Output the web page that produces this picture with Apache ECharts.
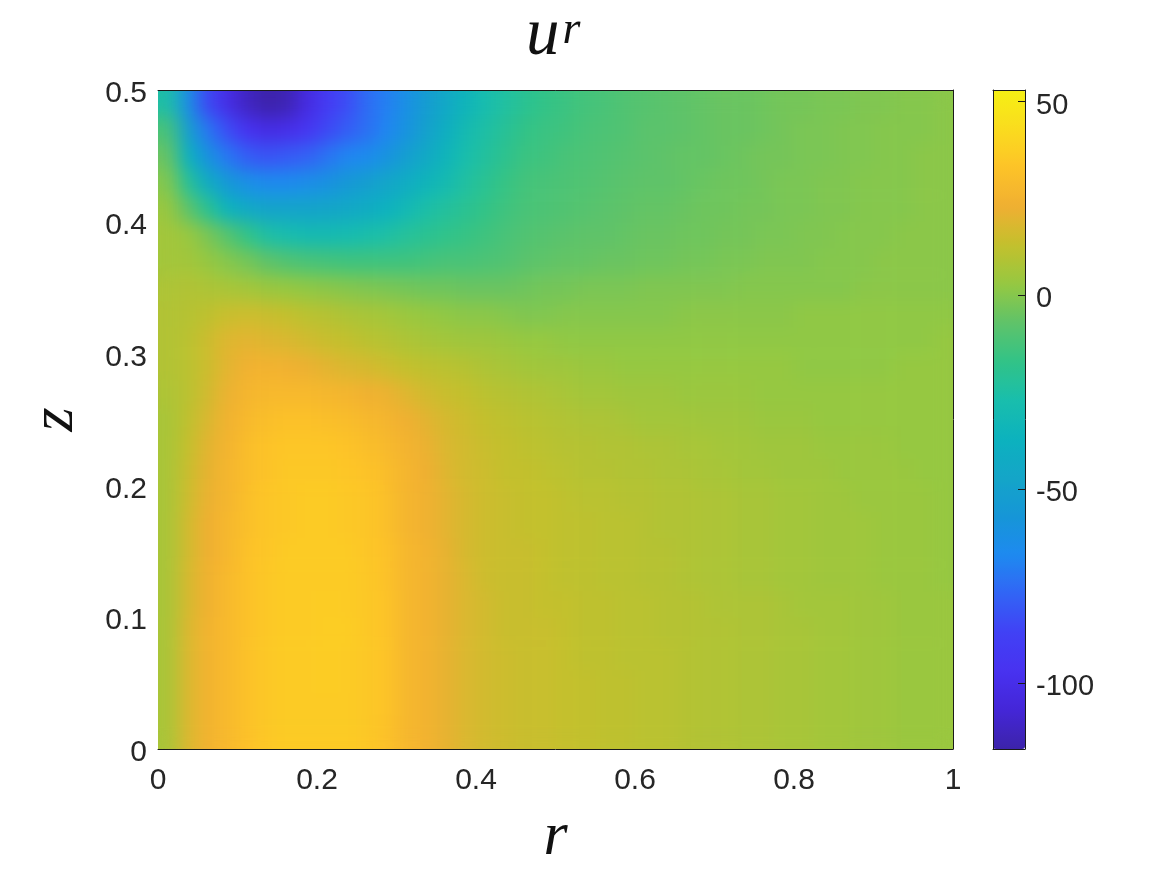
<!DOCTYPE html>
<html>
<head>
<meta charset="utf-8">
<style>html,body{margin:0;padding:0;background:#fff}#c{width:1167px;height:875px}</style>
<script src="https://cdn.jsdelivr.net/npm/echarts@6/dist/echarts.min.js"></script>
</head>
<body>
<svg width="0" height="0" style="position:absolute"><filter id="shade" x="-5%" y="-5%" width="110%" height="110%" color-interpolation-filters="sRGB"><feGaussianBlur stdDeviation="9"/><feComponentTransfer><feFuncA type="linear" slope="200" intercept="0"/></feComponentTransfer></filter></svg>
<div id="c"></div>
<script>
const rCenters = [0.0125,0.0375,0.0625,0.0875,0.1125,0.1375,0.1625,0.1875,0.2125,0.2375,0.2625,0.2875,0.3125,0.3375,0.3625,0.3875,0.4125,0.4375,0.4625,0.4875,0.5125,0.5375,0.5625,0.5875,0.6125,0.6375,0.6625,0.6875,0.7125,0.7375,0.7625,0.7875,0.8125,0.8375,0.8625,0.8875,0.9125,0.9375,0.9625,0.9875];
const zCenters = [0.01,0.03,0.05,0.07,0.09,0.11,0.13,0.15,0.17,0.19,0.21,0.23,0.25,0.27,0.29,0.31,0.33,0.35,0.37,0.39,0.41,0.43,0.45,0.47,0.49];
const uR = [
[7,18,25,28,32,35,36,36,36,36,35,32,27,25,21,18,16,15,14,14,13,13,12,12,11,11,10,9,9,8,8,7,7,6,6,5,5,4,4,4],
[7,18,25,28,32,35,36,36,36,36,35,33,27,25,21,18,16,15,14,14,13,13,12,12,11,11,10,9,9,8,8,7,7,6,6,5,5,4,4,4],
[7,18,25,28,32,35,36,36,37,36,35,33,27,25,21,18,16,15,14,14,13,13,12,12,11,11,10,9,9,8,8,7,7,6,6,5,5,4,4,4],
[7,18,25,28,32,35,36,36,37,36,35,33,27,25,21,18,16,15,14,14,13,12,12,11,11,11,10,9,9,8,8,7,7,6,6,5,5,4,4,4],
[7,18,25,28,32,35,36,36,37,37,35,33,27,25,21,18,16,14,14,14,13,12,12,11,11,10,10,9,9,8,8,7,7,6,6,5,5,4,4,4],
[7,17,24,28,32,35,36,36,37,36,35,33,27,25,21,18,16,14,14,13,13,12,12,11,11,10,10,9,8,8,8,7,6,6,6,5,5,4,4,4],
[7,17,24,28,32,35,36,36,36,36,35,32,27,25,21,18,15,14,14,13,12,12,11,11,10,10,9,8,8,7,7,6,6,5,5,5,4,4,4,3],
[7,16,23,27,32,34,36,36,36,36,34,32,27,25,21,17,15,14,14,13,12,12,11,11,10,10,9,8,8,7,7,6,6,5,5,5,4,4,4,3],
[7,16,23,27,31,34,35,36,36,35,34,31,26,24,20,17,15,14,13,13,12,12,11,11,10,9,9,8,8,7,7,6,6,5,5,5,4,4,4,3],
[7,15,22,26,31,34,35,36,36,35,34,31,26,24,20,17,15,14,13,13,12,11,11,10,10,9,9,8,8,7,7,6,6,5,5,4,4,4,4,3],
[7,14,21,26,30,33,35,35,35,34,33,30,26,23,19,16,15,13,13,12,11,10,10,9,9,8,8,7,7,6,6,5,5,5,4,4,4,4,3,3],
[7,13,20,25,30,33,34,34,34,33,31,28,25,22,18,16,14,13,12,11,10,10,9,9,8,8,7,7,6,6,5,5,5,4,4,4,4,3,3,3],
[7,12,18,24,28,31,32,32,31,30,28,26,23,20,17,15,13,12,11,10,9,8,8,7,6,6,6,5,5,5,4,4,4,3,3,3,3,3,3,3],
[8,11,16,22,26,28,28,28,27,26,24,22,19,16,14,13,11,10,9,8,7,6,6,5,5,5,4,4,4,4,3,3,3,3,3,3,3,3,3,3],
[9,11,15,20,24,25,24,22,20,18,17,15,13,12,11,10,8,7,6,5,5,4,4,3,3,3,3,3,3,3,3,3,2,2,2,2,2,3,3,3],
[9,11,15,19,20,19,18,16,14,13,11,10,8,7,6,5,5,4,3,3,2,2,2,2,2,2,2,2,2,2,2,2,2,2,2,2,2,2,2,3],
[9,10,12,14,15,14,13,11,10,8,7,6,4,3,2,1,1,0,-1,-1,0,0,0,0,0,0,1,1,1,1,1,1,2,2,2,2,2,2,2,2],
[8,9,8,7,6,4,3,2,1,0,-1,-2,-3,-4,-4,-5,-5,-5,-4,-3,-3,-2,-2,-2,-1,-1,-1,-1,-1,0,0,0,0,0,0,1,1,1,1,1],
[6,6,3,0,-3,-7,-10,-12,-13,-14,-14,-14,-14,-13,-12,-12,-11,-10,-8,-7,-6,-6,-5,-5,-4,-4,-3,-3,-2,-2,-1,-1,-1,0,0,0,1,1,1,1],
[6,4,-2,-9,-17,-25,-28,-30,-30,-29,-27,-25,-22,-20,-18,-16,-14,-12,-10,-9,-8,-7,-7,-6,-5,-5,-4,-4,-3,-3,-2,-2,-1,-1,0,0,0,1,1,1],
[4,-7,-20,-36,-44,-48,-48,-48,-47,-45,-42,-38,-32,-26,-23,-20,-17,-14,-12,-11,-10,-9,-8,-7,-6,-6,-5,-4,-4,-3,-3,-2,-2,-1,-1,0,0,0,1,1],
[0,-21,-42,-56,-63,-66,-66,-64,-61,-56,-52,-47,-42,-35,-30,-24,-20,-16,-13,-12,-11,-10,-9,-8,-7,-7,-6,-5,-4,-4,-3,-2,-2,-1,-1,0,0,0,1,1],
[-5,-37,-60,-72,-79,-82,-80,-78,-73,-68,-66,-60,-52,-44,-35,-27,-23,-19,-15,-14,-12,-11,-10,-9,-8,-7,-6,-6,-5,-4,-3,-3,-2,-2,-1,-1,0,0,1,1],
[-12,-50,-72,-84,-97,-102,-100,-95,-85,-79,-74,-68,-60,-50,-40,-30,-25,-21,-17,-15,-14,-12,-11,-10,-8,-8,-7,-6,-5,-5,-4,-3,-2,-2,-1,-1,0,0,0,1],
[-25,-62,-85,-101,-112,-117,-115,-103,-92,-84,-75,-70,-62,-53,-45,-35,-28,-24,-20,-17,-15,-13,-12,-10,-9,-8,-7,-6,-5,-5,-4,-3,-3,-2,-2,-1,-1,0,0,1]
];
const rTicks = [0,0.2,0.4,0.6,0.8,1];
const zTicks = [0,0.1,0.2,0.3,0.4,0.5];
const colorbarTicks = [-100,-50,0,50];
const valueMin = -117;
const valueMax = 53;
const parulaStops = ['#3c23aa','#4426d7','#4832f0','#4141f5','#3264f5','#1e8af0','#1696d7','#14a5c8','#0cb2be','#19beac','#32c387','#5fc369','#96c841','#c3c02d','#f0af32','#fdc328','#fadc1e','#f5f014'];
const titleText = '{u|u}{r|r}';
const xName = 'r';
const yName = 'z';

const heatData = [];
uR.forEach((row, j) => row.forEach((v, i) => heatData.push([i, j, v])));

const sans = '"Liberation Sans", Arial, sans-serif';
const serif = '"Liberation Serif", serif';
const labelColor = '#262626';
const nameStyle = {fontFamily: serif, fontStyle: 'italic', fontWeight: 'normal', fontSize: 62, color: '#111'};
const edgeLine = {show: true, onZero: false, lineStyle: {color: '#1a1a1a', width: 1}};

const chart = echarts.init(document.getElementById('c'), null, {renderer: 'canvas'});
chart.setOption({
  animation: false,
  backgroundColor: '#ffffff',
  title: {
    text: titleText,
    left: 526, top: 0, padding: 0, itemGap: 0,
    textStyle: {
      fontWeight: 'normal',
      rich: {
        u: {fontFamily: serif, fontStyle: 'italic', fontWeight: 'normal', fontSize: 67, color: '#111', lineHeight: 72},
        r: {fontFamily: serif, fontStyle: 'italic', fontWeight: 'normal', fontSize: 46, color: '#111', verticalAlign: 'top', lineHeight: 72, padding: [8, 0, 0, 3]}
      }
    }
  },
  grid: [
    {left: 158, top: 90, width: 795, height: 659, containLabel: false, outerBoundsMode: 'none'},
    {left: 993, top: 90, width: 32, height: 659, containLabel: false, outerBoundsMode: 'none'}
  ],
  xAxis: [
    {type: 'category', gridIndex: 0, data: rCenters, show: false, position: 'bottom'},
    {type: 'value', gridIndex: 0, min: 0, max: 1, interval: 0.2, position: 'bottom', zlevel: 2,
     axisLine: edgeLine,
     axisTick: {show: false}, splitLine: {show: false},
     axisLabel: {show: true, fontFamily: sans, fontSize: 30, color: labelColor, margin: 17},
     name: xName, nameLocation: 'middle', nameGap: 58, nameMoveOverlap: false, nameTextStyle: nameStyle},
    {type: 'value', gridIndex: 0, min: 0, max: 1, position: 'top', zlevel: 2,
     axisLine: edgeLine, axisTick: {show: false}, axisLabel: {show: false}, splitLine: {show: false}},
    {type: 'value', gridIndex: 1, min: 0, max: 1, position: 'bottom', zlevel: 2,
     axisLine: edgeLine, axisTick: {show: false}, axisLabel: {show: false}, splitLine: {show: false}},
    {type: 'value', gridIndex: 1, min: 0, max: 1, position: 'top', zlevel: 2,
     axisLine: edgeLine, axisTick: {show: false}, axisLabel: {show: false}, splitLine: {show: false}}
  ],
  yAxis: [
    {type: 'category', gridIndex: 0, data: zCenters, show: false, position: 'left'},
    {type: 'value', gridIndex: 0, min: 0, max: 0.5, interval: 0.1, position: 'left', zlevel: 2,
     axisLine: {show: false, onZero: false}, axisTick: {show: false}, splitLine: {show: false},
     axisLabel: {show: true, fontFamily: sans, fontSize: 30, color: labelColor, margin: 11, verticalAlign: 'top', lineHeight: 8},
     name: yName, nameLocation: 'middle', nameGap: 71, nameRotate: 90, nameMoveOverlap: false, nameTextStyle: nameStyle},
    {type: 'value', gridIndex: 0, min: 0, max: 0.5, position: 'right', zlevel: 2,
     axisLine: edgeLine, axisTick: {show: false}, axisLabel: {show: false}, splitLine: {show: false}},
    {type: 'value', gridIndex: 1, min: valueMin, max: valueMax, position: 'right', zlevel: 2,
     axisLine: edgeLine,
     axisTick: {show: true, inside: true, length: 7, customValues: colorbarTicks, lineStyle: {color: '#1a1a1a', width: 1}},
     axisLabel: {show: true, inside: false, margin: 11, fontFamily: sans, fontSize: 29, color: labelColor, customValues: colorbarTicks, verticalAlign: 'top', lineHeight: 8},
     splitLine: {show: false}},
    {type: 'value', gridIndex: 1, min: valueMin, max: valueMax, position: 'left', zlevel: 2,
     axisLine: edgeLine, axisTick: {show: false}, axisLabel: {show: false}, splitLine: {show: false}}
  ],
  visualMap: {
    type: 'continuous', seriesIndex: 0, min: valueMin, max: valueMax,
    left: 993, top: 90, itemWidth: 32, itemHeight: 659, padding: 0,
    calculable: false, realtime: false, showLabel: false, text: null, hoverLink: false,
    inRange: {color: parulaStops}, borderWidth: 0
  },
  series: [{
    type: 'heatmap', xAxisIndex: 0, yAxisIndex: 0, data: heatData, silent: true, zlevel: 1,
    progressive: 0, itemStyle: {borderWidth: 0}, emphasis: {disabled: true}
  }]
});
// interpolated shading look: soften the heatmap's own canvas layer, clipped to the plot box
function shade() {
  const layer = chart.getDom().querySelector('canvas[data-zr-dom-id="zr_1"]');
  if (layer) {
    layer.style.filter = 'url(#shade)';
    layer.style.clipPath = 'inset(90px 214px 126px 158px)';
  }
}
shade();
chart.on('finished', shade);
</script>
</body>
</html>
